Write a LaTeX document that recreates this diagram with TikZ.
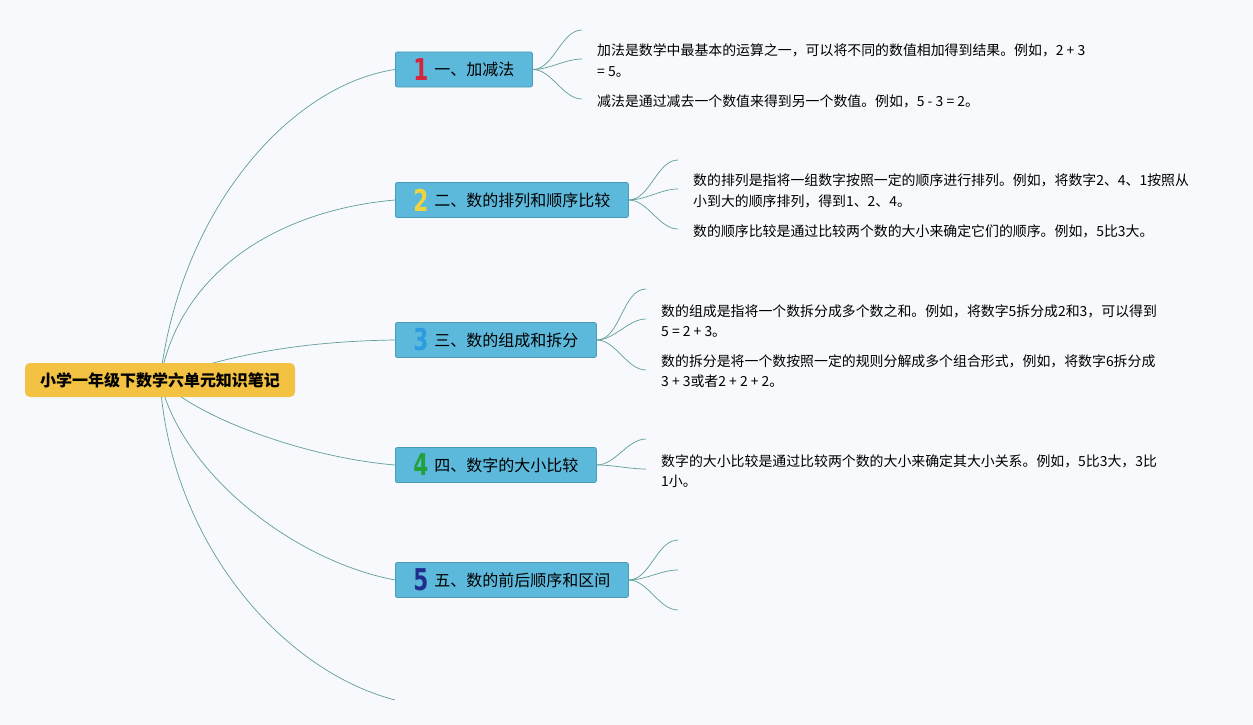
\documentclass[tikz,border=0pt]{standalone}
\usepackage{fontspec}
\usepackage{graphicx}
\setmainfont{Noto Sans CJK SC}
\newfontfamily\numfont{DejaVu Sans}
\definecolor{bgc}{HTML}{F7F9FD}
\definecolor{boxc}{HTML}{5DB9DB}
\definecolor{boxb}{HTML}{4A9CB6}
\definecolor{rootc}{HTML}{F4C243}
\definecolor{linec}{HTML}{5F9E98}
\definecolor{nA}{HTML}{D7233C}
\definecolor{nB}{HTML}{F0D43E}
\definecolor{nC}{HTML}{2B9CE0}
\definecolor{nD}{HTML}{22A13A}
\definecolor{nE}{HTML}{1F2E8E}
\newcommand{\numicon}[2]{\raisebox{-4.5pt}{\textcolor{#1}{\numfont\bfseries\fontsize{30}{30}\selectfont\scalebox{0.72}[1]{#2}}}\hspace{6pt}}
\pgfdeclarelayer{bg}
\pgfsetlayers{bg,main}
\tikzset{
  topic/.style={draw=boxb, fill=boxc, line width=0.8pt, rounded corners=2pt,
    minimum height=35pt, inner sep=0pt, anchor=west, font=\fontsize{16}{18}\selectfont},
  rootnode/.style={fill=rootc, rounded corners=5pt, minimum width=270pt,
    minimum height=34pt, inner sep=0pt, font=\bfseries\fontsize{16}{18}\selectfont},
  leaf/.style={anchor=west, inner sep=0pt, align=left, font=\fontsize{13.9}{20.5}\selectfont},
  conn/.style={draw=linec, line width=0.7pt},
  sub/.style={draw=linec, line width=0.7pt, out=0, in=180, looseness=0.85}
}
\begin{document}
\begin{tikzpicture}[x=1pt,y=-1pt]
\begin{pgfonlayer}{bg}
\fill[bgc] (0,0) rectangle (1253,725);
\end{pgfonlayer}
\useasboundingbox (0,0) rectangle (1253,725);

\node[rootnode] (root) at (160,380) {小学一年级下数学六单元知识笔记};

\node[topic, minimum width=137pt] (b1) at (395,69.5) {\numicon{nA}{1}一、加减法};
\node[topic, minimum width=233pt] (b2) at (395,200) {\numicon{nB}{2}二、数的排列和顺序比较};
\node[topic, minimum width=201pt] (b3) at (395,340) {\numicon{nC}{3}三、数的组成和拆分};
\node[topic, minimum width=201pt] (b4) at (395,465) {\numicon{nD}{4}四、数字的大小比较};
\node[topic, minimum width=233pt] (b5) at (395,580) {\numicon{nE}{5}五、数的前后顺序和区间};
\coordinate (b6) at (395,700);

% leaf texts
\node[leaf] (l11) at (597,60.5) {加法是数学中最基本的运算之一，可以将不同的数值相加得到结果。例如，2 + 3\\= 5。};
\node[leaf] (l12) at (597,101) {减法是通过减去一个数值来得到另一个数值。例如，5 - 3 = 2。};
\node[leaf] (l21) at (693,191) {数的排列是指将一组数字按照一定的顺序进行排列。例如，将数字2、4、1按照从\\小到大的顺序排列，得到1、2、4。};
\node[leaf] (l22) at (693,231) {数的顺序比较是通过比较两个数的大小来确定它们的顺序。例如，5比3大。};
\node[leaf] (l31) at (661,321) {数的组成是指将一个数拆分成多个数之和。例如，将数字5拆分成2和3，可以得到\\5 = 2 + 3。};
\node[leaf] (l32) at (661,371) {数的拆分是将一个数按照一定的规则分解成多个组合形式，例如，将数字6拆分成\\3 + 3或者2 + 2 + 2。};
\node[leaf] (l41) at (661,471) {数字的大小比较是通过比较两个数的大小来确定其大小关系。例如，5比3大，3比\\1小。};

% sub connector ends
\coordinate (e11) at (582,30);
\coordinate (e12) at (582,59);
\coordinate (e13) at (582,99);
\coordinate (e21) at (678,160);
\coordinate (e22) at (678,189);
\coordinate (e23) at (678,229);
\coordinate (e31) at (646,289);
\coordinate (e32) at (646,319);
\coordinate (e33) at (646,370);
\coordinate (e41) at (646,439);
\coordinate (e42) at (646,469);
\coordinate (e51) at (678,540);
\coordinate (e52) at (678,570);
\coordinate (e53) at (678,610);

\begin{pgfonlayer}{bg}
\draw[conn] (root.center) .. controls (180,210) and (290,85) .. (b1.west);
\draw[conn] (root.center) .. controls (180,270) and (280,210) .. (b2.west);
\draw[conn] (root.center) .. controls (240,350) and (320,341) .. (b3.west);
\draw[conn] (root.center) .. controls (200,420) and (310,458) .. (b4.west);
\draw[conn] (root.center) .. controls (180,470) and (290,560) .. (b5.west);
\draw[conn] (root.center) .. controls (170,540) and (280,670) .. (b6);
\end{pgfonlayer}

\foreach \e in {e11,e12,e13} \draw[sub] (b1.east) to (\e);
\foreach \e in {e21,e22,e23} \draw[sub] (b2.east) to (\e);
\foreach \e in {e31,e32,e33} \draw[sub] (b3.east) to (\e);
\foreach \e in {e41,e42} \draw[sub] (b4.east) to (\e);
\foreach \e in {e51,e52,e53} \draw[sub] (b5.east) to (\e);
\end{tikzpicture}
\end{document}
